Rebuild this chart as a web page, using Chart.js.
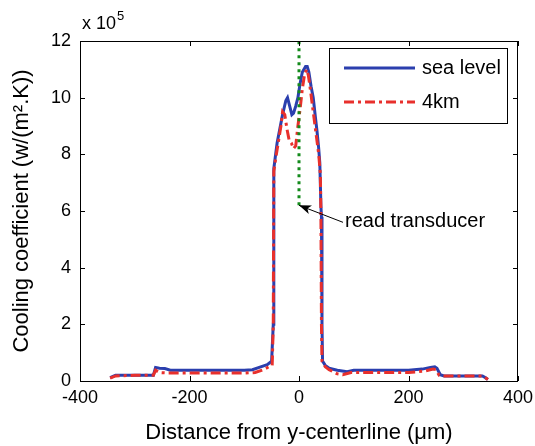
<!DOCTYPE html>
<html>
<head>
<meta charset="utf-8">
<script src="https://cdn.jsdelivr.net/npm/chart.js@4.4.1/dist/chart.umd.min.js"></script>
<style>
html, body { margin: 0; padding: 0; background: #fff; }
#wrap { width: 535px; height: 446px; }
</style>
</head>
<body>
<div id="wrap"><canvas id="coolingChart"></canvas></div>
<script>
// distance from y-centerline (um) / cooling coefficient (x 10^5 W/(m^2.K))
const seaX = [-345, -335, -300, -266, -262, -255, -245, -235, -200, -150, -100, -85, -70, -58, -50, -47, -46, -44, -40, -35, -30, -24, -21, -17, -13, -10, -6, -2, 2, 6, 12, 15, 18, 22, 26, 30, 33, 36, 38, 40, 41, 42, 43, 48, 55, 70, 88, 100, 150, 200, 225, 240, 248, 252, 258, 265, 300, 335, 340, 345];
const seaY = [0.12, 0.2, 0.2, 0.2, 0.48, 0.45, 0.44, 0.38, 0.38, 0.38, 0.38, 0.4, 0.5, 0.58, 0.7, 2.0, 7.5, 7.8, 8.4, 8.9, 9.4, 9.9, 10.0, 9.7, 9.4, 9.45, 9.7, 10.0, 10.5, 10.9, 11.1, 11.1, 10.9, 10.4, 10.0, 9.3, 8.8, 8.2, 7.7, 6.2, 5.8, 2.0, 0.7, 0.55, 0.45, 0.38, 0.33, 0.38, 0.38, 0.38, 0.42, 0.48, 0.5, 0.45, 0.22, 0.18, 0.18, 0.18, 0.12, 0.05];

const km4X = [-345, -335, -300, -266, -262, -255, -240, -200, -150, -100, -80, -65, -55, -49, -47, -46, -43, -38, -33, -30, -26, -22, -18, -14, -10, -6, -2, 2, 6, 10, 14, 17, 20, 24, 28, 32, 36, 39, 40, 41, 42, 48, 55, 70, 80, 95, 150, 200, 230, 245, 250, 256, 265, 335, 340, 345];
const km4Y = [0.1, 0.18, 0.2, 0.2, 0.38, 0.3, 0.28, 0.28, 0.28, 0.28, 0.3, 0.4, 0.5, 0.55, 2.0, 7.4, 7.8, 8.4, 9.0, 9.5, 9.4, 8.9, 8.5, 8.4, 8.2, 8.3, 9.0, 9.6, 10.3, 10.8, 11.0, 10.8, 10.4, 9.8, 9.2, 8.6, 8.0, 7.3, 6.0, 2.0, 0.7, 0.5, 0.4, 0.25, 0.22, 0.3, 0.3, 0.3, 0.35, 0.42, 0.4, 0.2, 0.18, 0.18, 0.12, 0.05];

// read transducer position
const readX = [0, 0];
const readY = [6.2, 12];

const xTicks = [-400, -200, 0, 200, 400];
const yTicks = [0, 2, 4, 6, 8, 10, 12];

const pts = (xs, ys) => xs.map((x, i) => ({ x: x, y: ys[i] }));

const FONT = '"Liberation Sans", Arial, Helvetica, sans-serif';
Chart.defaults.font.family = FONT;
Chart.defaults.color = '#000';

// box, inward ticks, legend, annotation, exponent label
const extras = {
  id: 'extras',
  afterDatasetsDraw(chart) {
    const { ctx, chartArea: a, scales: { x, y } } = chart;
    ctx.save();
    ctx.strokeStyle = '#000';
    ctx.lineWidth = 1;
    ctx.strokeRect(a.left + 0.5, a.top + 0.5, a.right - a.left - 1, a.bottom - a.top);
    ctx.beginPath();
    xTicks.forEach(v => {
      const px = Math.round(x.getPixelForValue(v)) + 0.5;
      ctx.moveTo(px, a.bottom); ctx.lineTo(px, a.bottom - 5);
      ctx.moveTo(px, a.top); ctx.lineTo(px, a.top + 5);
    });
    yTicks.forEach(v => {
      const py = Math.round(y.getPixelForValue(v)) + 0.5;
      ctx.moveTo(a.left, py); ctx.lineTo(a.left + 5, py);
      ctx.moveTo(a.right, py); ctx.lineTo(a.right - 5, py);
    });
    ctx.stroke();

    // x 10^5
    ctx.fillStyle = '#000';
    ctx.textBaseline = 'alphabetic';
    ctx.textAlign = 'left';
    ctx.font = '18px ' + FONT;
    ctx.fillText('x 10', a.left + 2, a.top - 12);
    const w = ctx.measureText('x 10').width;
    ctx.font = '13px ' + FONT;
    ctx.fillText('5', a.left + 3 + w, a.top - 21);

    // legend
    const lx = a.right - 189, ly = a.top + 7;
    ctx.fillStyle = '#fff';
    ctx.fillRect(lx, ly, 178, 75);
    ctx.strokeStyle = '#000';
    ctx.lineWidth = 1;
    ctx.strokeRect(lx + 0.5, ly + 0.5, 178, 75);
    ctx.lineWidth = 3;
    ctx.strokeStyle = chart.data.datasets[0].borderColor;
    ctx.setLineDash([]);
    ctx.beginPath(); ctx.moveTo(lx + 15, ly + 20); ctx.lineTo(lx + 86, ly + 20); ctx.stroke();
    ctx.strokeStyle = chart.data.datasets[1].borderColor;
    ctx.setLineDash(chart.data.datasets[1].borderDash);
    ctx.beginPath(); ctx.moveTo(lx + 15, ly + 54); ctx.lineTo(lx + 86, ly + 54); ctx.stroke();
    ctx.setLineDash([]);
    ctx.fillStyle = '#000';
    ctx.font = '20px ' + FONT;
    ctx.textBaseline = 'middle';
    ctx.fillText(chart.data.datasets[0].label, lx + 93, ly + 20);
    ctx.fillText(chart.data.datasets[1].label, lx + 93, ly + 54);

    // read transducer annotation
    const tx = x.getPixelForValue(readX[0]);
    const ty = y.getPixelForValue(readY[0]);
    const sx = tx + 44, sy = ty + 17;
    const ang = Math.atan2(ty - sy, tx - sx);
    ctx.strokeStyle = '#000';
    ctx.lineWidth = 1;
    ctx.beginPath(); ctx.moveTo(sx, sy); ctx.lineTo(tx, ty); ctx.stroke();
    ctx.beginPath();
    ctx.moveTo(tx, ty);
    ctx.lineTo(tx - 13 * Math.cos(ang - 0.35), ty - 13 * Math.sin(ang - 0.35));
    ctx.lineTo(tx - 9 * Math.cos(ang), ty - 9 * Math.sin(ang));
    ctx.lineTo(tx - 13 * Math.cos(ang + 0.35), ty - 13 * Math.sin(ang + 0.35));
    ctx.closePath();
    ctx.fillStyle = '#000';
    ctx.fill();
    ctx.textBaseline = 'alphabetic';
    ctx.fillText('read transducer', tx + 46, ty + 22);
    ctx.restore();
  }
};

new Chart(document.getElementById('coolingChart'), {
  type: 'scatter',
  data: {
    datasets: [{
      label: 'sea level',
      data: pts(seaX, seaY),
      showLine: true,
      borderColor: '#2b3fae',
      borderWidth: 3,
      pointRadius: 0,
      order: 3
    }, {
      label: '4km',
      data: pts(km4X, km4Y),
      showLine: true,
      borderColor: '#e8302c',
      borderWidth: 3,
      borderDash: [10, 4, 3, 4],
      pointRadius: 0,
      order: 2
    }, {
      label: 'read transducer',
      data: pts(readX, readY),
      showLine: true,
      borderColor: '#138a1b',
      borderWidth: 3,
      borderDash: [3, 4],
      pointRadius: 0,
      order: 1
    }]
  },
  options: {
    responsive: true,
    maintainAspectRatio: false,
    animation: false,
    layout: { padding: { left: 0, top: 41, right: 17, bottom: 0 } },
    plugins: {
      legend: { display: false },
      tooltip: { enabled: false }
    },
    scales: {
      x: {
        type: 'linear',
        min: -400,
        max: 400,
        grid: { display: false, drawTicks: false },
        border: { display: false },
        afterFit: s => { s.height = 65; s.paddingLeft = 0; s.paddingRight = 0; },
        afterBuildTicks: s => { s.ticks = xTicks.map(v => ({ value: v })); },
        ticks: { font: { size: 18 }, padding: 6, maxRotation: 0 },
        title: {
          display: true,
          text: 'Distance from y-centerline (\u03bcm)',
          font: { size: 22 },
          padding: { top: 1, bottom: 0 }
        }
      },
      y: {
        min: 0,
        max: 12,
        grid: { display: false, drawTicks: false },
        border: { display: false },
        afterFit: s => { s.width = 80; s.paddingTop = 0; s.paddingBottom = 0; },
        afterBuildTicks: s => { s.ticks = yTicks.map(v => ({ value: v })); },
        ticks: { font: { size: 18 }, padding: 9 },
        title: {
          display: true,
          text: 'Cooling coefficient (w/(m\u00b2.K))',
          font: { size: 22 },
          padding: { top: 9, bottom: 0 }
        }
      }
    }
  },
  plugins: [extras]
});
</script>
</body>
</html>
